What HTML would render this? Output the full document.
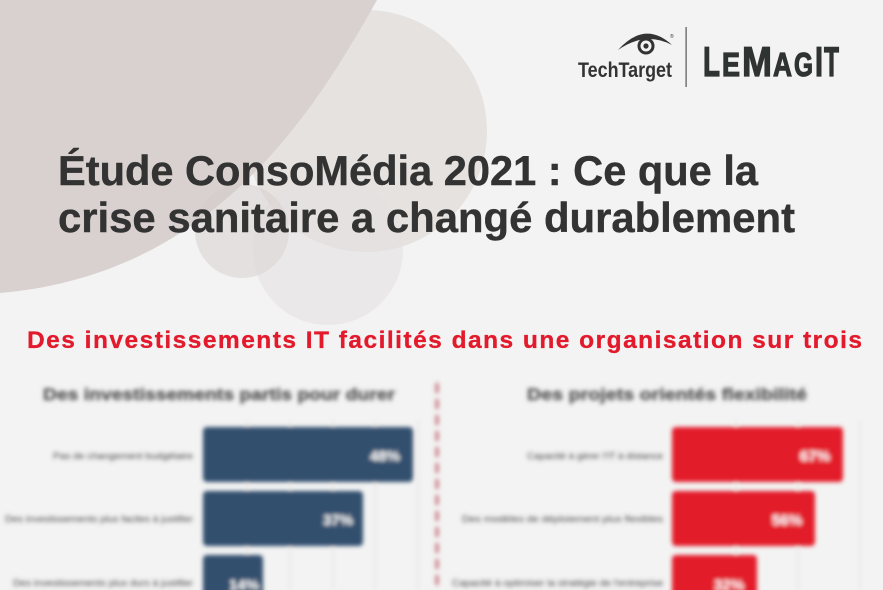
<!DOCTYPE html>
<html>
<head>
<meta charset="utf-8">
<style>
  html,body{margin:0;padding:0;background:#f3f3f3;}
  svg{display:block;}
  text{font-family:"Liberation Sans",Arial,sans-serif;}
</style>
</head>
<body>
<svg width="883" height="590" viewBox="0 0 883 590" xmlns="http://www.w3.org/2000/svg">
  <defs>
    <filter id="blur" x="-5%" y="-5%" width="110%" height="110%">
      <feGaussianBlur stdDeviation="2"/>
    </filter>
  </defs>
  <rect x="0" y="0" width="883" height="590" fill="#f3f3f3"/>

  <!-- background shapes -->
  <circle cx="328" cy="250" r="75" fill="#e7e3e3" opacity="0.55"/>
  <circle cx="366" cy="131" r="121" fill="#e6e2e0"/>
  <path d="M0,0 L377,0 C315,110 215,275 0,293 Z" fill="#d8d1cf"/>
  <circle cx="242" cy="231" r="47" fill="#d2cac8" opacity="0.45"/>
  <circle cx="328" cy="250" r="75" fill="#e2dede" opacity="0.25"/>

  <!-- logo -->
  <path d="M618,50 Q645,20 672,45 Q645,31 618,50 Z" fill="#333"/>
  <circle cx="646" cy="46" r="7" fill="none" stroke="#333" stroke-width="3"/>
  <circle cx="646" cy="46" r="2.6" fill="#333"/>
  <text x="670" y="38" font-size="5" fill="#333">®</text>
  <text x="578" y="77" font-size="21" font-weight="bold" fill="#333" textLength="94" lengthAdjust="spacingAndGlyphs">TechTarget</text>
  <rect x="685.5" y="27" width="1.2" height="60" fill="#555"/>
  <g font-weight="bold" fill="#2f3332" stroke="#2f3332" stroke-width="1.2">
    <text x="703" y="76" font-size="42" textLength="17" lengthAdjust="spacingAndGlyphs">L</text>
    <text x="722" y="76" font-size="33" textLength="18" lengthAdjust="spacingAndGlyphs">E</text>
    <text x="742" y="76" font-size="42" textLength="30" lengthAdjust="spacingAndGlyphs">M</text>
    <text x="773" y="76" font-size="33" textLength="19" lengthAdjust="spacingAndGlyphs">A</text>
    <text x="794" y="76" font-size="33" textLength="19" lengthAdjust="spacingAndGlyphs">G</text>
    <text x="815" y="76" font-size="42" textLength="8" lengthAdjust="spacingAndGlyphs">I</text>
    <text x="824" y="76" font-size="42" textLength="15" lengthAdjust="spacingAndGlyphs">T</text>
  </g>

  <!-- title -->
  <g font-weight="bold" fill="#333333" font-size="42" stroke="#333333" stroke-width="0.4">
    <text x="58" y="185" textLength="700" lengthAdjust="spacingAndGlyphs">Étude ConsoMédia 2021 : Ce que la</text>
    <text x="58" y="232" textLength="737" lengthAdjust="spacingAndGlyphs">crise sanitaire a changé durablement</text>
  </g>

  <!-- red subtitle -->
  <text x="27" y="348" font-size="24.5" font-weight="bold" fill="#e21a2c" stroke="#e21a2c" stroke-width="0.3" textLength="835" lengthAdjust="spacing">Des investissements IT facilités dans une organisation sur trois</text>

  <!-- blurred charts -->
  <g filter="url(#blur)">
    <!-- chart titles -->
    <text x="43" y="400" font-size="17" font-weight="bold" fill="#555" stroke="#555" stroke-width="0.4" textLength="352" lengthAdjust="spacingAndGlyphs">Des investissements partis pour durer</text>
    <text x="527" y="400" font-size="17" font-weight="bold" fill="#555" stroke="#555" stroke-width="0.4" textLength="280" lengthAdjust="spacingAndGlyphs">Des projets orientés flexibilité</text>

    <!-- grid -->
    <g stroke="#dcdcdc" stroke-width="1">
      <line x1="247" y1="420" x2="247" y2="590"/>
      <line x1="290" y1="420" x2="290" y2="590"/>
      <line x1="333" y1="420" x2="333" y2="590"/>
      <line x1="375" y1="420" x2="375" y2="590"/>
      <line x1="418" y1="420" x2="418" y2="590"/>
      <line x1="736" y1="420" x2="736" y2="590"/>
      <line x1="798" y1="420" x2="798" y2="590"/>
      <line x1="860" y1="420" x2="860" y2="590"/>
    </g>

    <!-- divider dotted -->
    <line x1="437" y1="383" x2="437" y2="590" stroke="#b8505a" stroke-width="3.5" stroke-dasharray="10,6" opacity="0.7"/>

    <!-- left bars -->
    <g fill="#33506e">
      <rect x="203" y="427" width="210" height="55" rx="4"/>
      <rect x="203" y="491" width="160" height="55" rx="4"/>
      <rect x="203" y="555" width="60" height="55" rx="4"/>
    </g>
    <g font-size="15" font-weight="bold" fill="#ffffff" text-anchor="end">
      <text x="400" y="461">48%</text>
      <text x="353" y="525">37%</text>
      <text x="259" y="590">14%</text>
    </g>
    <g font-size="9" fill="#444">
      <text x="53" y="459" textLength="140" lengthAdjust="spacingAndGlyphs">Pas de changement budgétaire</text>
      <text x="5" y="522" textLength="188" lengthAdjust="spacingAndGlyphs">Des investissements plus faciles à justifier</text>
      <text x="13" y="586" textLength="180" lengthAdjust="spacingAndGlyphs">Des investissements plus durs à justifier</text>
    </g>

    <!-- right bars -->
    <g fill="#e31a2b">
      <rect x="672" y="427" width="171" height="55" rx="4"/>
      <rect x="672" y="491" width="143" height="55" rx="4"/>
      <rect x="672" y="555" width="85" height="55" rx="4"/>
    </g>
    <g font-size="15" font-weight="bold" fill="#ffffff" text-anchor="end">
      <text x="830" y="461">67%</text>
      <text x="802" y="525">56%</text>
      <text x="744" y="590">32%</text>
    </g>
    <g font-size="9" fill="#444">
      <text x="527" y="459" textLength="136" lengthAdjust="spacingAndGlyphs">Capacité à gérer l'IT à distance</text>
      <text x="462" y="522" textLength="201" lengthAdjust="spacingAndGlyphs">Des modèles de déploiement plus flexibles</text>
      <text x="452" y="586" textLength="211" lengthAdjust="spacingAndGlyphs">Capacité à optimiser la stratégie de l'entreprise</text>
    </g>
  </g>
</svg>
</body>
</html>
